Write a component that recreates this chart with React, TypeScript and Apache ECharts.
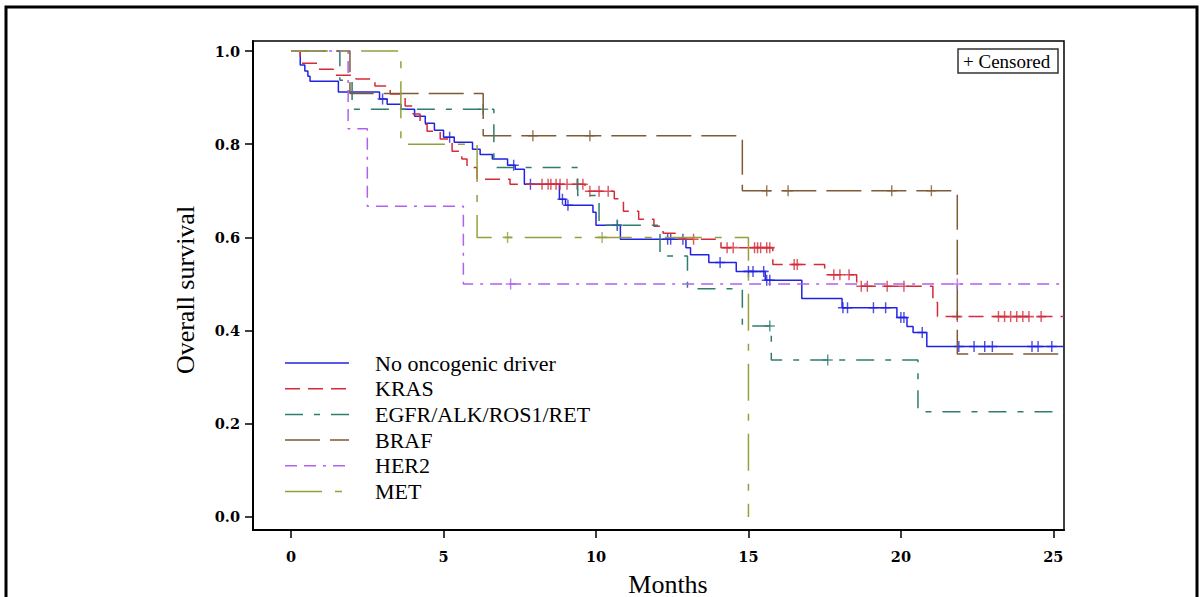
import React, { useEffect, useRef } from "react";
import * as echarts from "echarts";

// ---------------- data ----------------
const xTicks = [0, 5, 10, 15, 20, 25];
const yTicks = [0, 0.2, 0.4, 0.6, 0.8, 1.0];

const groupNames = ["No oncogenic driver", "KRAS", "EGFR/ALK/ROS1/RET", "BRAF", "HER2", "MET"];

// No oncogenic driver
const noDriverTimes = [0, 0.3, 0.45, 0.55, 0.62, 1.55, 2.9, 3.15, 3.6, 4.05, 4.4, 4.7, 5.0, 5.35, 5.95, 6.2, 6.6, 7.1, 7.35, 7.65, 8.8, 9.0, 9.9, 10.0, 10.8, 12.95, 13.1, 13.7, 14.6, 15.55, 16.75, 18.07, 19.87, 20.2, 20.4, 20.85, 25.35];
const noDriverSurv = [1, 0.97, 0.957, 0.946, 0.935, 0.912, 0.897, 0.886, 0.875, 0.86, 0.845, 0.83, 0.815, 0.804, 0.789, 0.778, 0.768, 0.755, 0.746, 0.714, 0.682, 0.669, 0.654, 0.626, 0.596, 0.578, 0.563, 0.546, 0.527, 0.508, 0.469, 0.449, 0.428, 0.409, 0.396, 0.366, 0.366];
const noDriverCensor = [3.0, 5.2, 7.3, 7.85, 8.9, 9.08, 10.7, 12.35, 12.45, 12.85, 14.07, 15.0, 15.15, 15.5, 15.6, 15.7, 18.1, 18.25, 19.1, 19.5, 20.0, 20.1, 20.7, 21.9, 22.4, 22.75, 23.0, 24.3, 24.5, 24.95];

// KRAS
const krasTimes = [0, 0.3, 0.89, 1.38, 2.13, 2.75, 3.25, 3.74, 4.0, 4.23, 4.46, 4.89, 5.28, 5.6, 5.77, 6.1, 7.18, 9.64, 10.6, 10.9, 11.4, 11.9, 12.2, 12.6, 14.1, 15.8, 17.5, 18.55, 21.05, 21.2, 25.35];
const krasSurv = [1, 0.974, 0.961, 0.948, 0.94, 0.925, 0.908, 0.882, 0.865, 0.843, 0.828, 0.811, 0.785, 0.768, 0.75, 0.725, 0.714, 0.699, 0.683, 0.656, 0.639, 0.624, 0.609, 0.596, 0.578, 0.542, 0.52, 0.495, 0.46, 0.43, 0.43];
const krasCensor = [8.23, 8.43, 8.52, 8.69, 8.82, 9.05, 9.38, 9.57, 9.8, 10.1, 10.4, 13.2, 14.3, 14.5, 15.2, 15.3, 15.4, 15.6, 15.7, 16.5, 16.6, 17.8, 18.0, 18.3, 18.7, 18.9, 19.55, 20.1, 21.85, 23.2, 23.4, 23.6, 23.8, 24.0, 24.2, 24.6];

// EGFR/ALK/ROS1/RET
const egfrTimes = [0, 1.6, 2.0, 6.65, 9.4, 10.1, 12.1, 13.0, 14.8, 15.75, 20.56, 25.35];
const egfrSurv = [1, 0.9375, 0.875, 0.75, 0.69, 0.626, 0.56, 0.49, 0.41, 0.337, 0.226, 0.226];
const egfrCensor = [6.3, 10.7, 15.7, 17.6];

// BRAF
const brafTimes = [0, 1.93, 6.3, 14.8, 21.85, 25.35];
const brafSurv = [1, 0.909, 0.818, 0.7, 0.35, 0.35];
const brafCensor = [7.93, 9.8, 15.6, 16.3, 19.7, 21.0];

// HER2
const her2Times = [0, 1.87, 2.5, 5.65, 25.35];
const her2Surv = [1, 0.833, 0.667, 0.5, 0.5];
const her2Censor = [7.2, 21.85];

// MET
const metTimes = [0, 3.6, 6.1, 15.0];
const metSurv = [1, 0.8, 0.6, 0];
const metCensor = [7.1, 10.2];

// ---------------- styles ----------------
const colors = ["#2222e0", "#d42a3a", "#2e7d6e", "#7f5a36", "#b060ee", "#95a03c"];
const dashes: (number[] | "solid")[] = [
  "solid",
  [15, 8],
  [18, 11, 6, 11],
  [35, 10],
  [12, 7, 12, 7, 3, 7],
  [37, 13, 7, 13],
];

const SERIF = "'Liberation Serif', 'Times New Roman', serif";
const TICK_FONT = "'DejaVu Serif', serif";

function survAt(times: number[], surv: number[], t: number) {
  let v = surv[0];
  for (let i = 0; i < times.length; i++) {
    if (times[i] <= t) v = surv[i];
  }
  return v;
}

export default function App() {
  const ref = useRef<HTMLDivElement>(null);

  useEffect(() => {
    document.body.style.margin = "0";
    if (!ref.current) return;
    const chart = echarts.init(ref.current, undefined, { renderer: "svg" });

    const groups = [
      { t: noDriverTimes, s: noDriverSurv, c: noDriverCensor },
      { t: krasTimes, s: krasSurv, c: krasCensor },
      { t: egfrTimes, s: egfrSurv, c: egfrCensor },
      { t: brafTimes, s: brafSurv, c: brafCensor },
      { t: her2Times, s: her2Surv, c: her2Censor },
      { t: metTimes, s: metSurv, c: metCensor },
    ];

    const series: any[] = [];
    groups.forEach((g, i) => {
      series.push({
        type: "line",
        name: groupNames[i],
        step: "end",
        symbol: "none",
        showSymbol: false,
        silent: true,
        z: 2 + i,
        data: g.t.map((t, k) => [t, g.s[k]]),
        lineStyle: { color: colors[i], width: 1.5, type: dashes[i] },
      });
      series.push({
        type: "scatter",
        name: groupNames[i] + " censored",
        silent: true,
        z: 2 + i,
        symbol: "path://M5 0V10M0 5H10",
        symbolSize: [10, 11],
        data: g.c.map((t) => [t, survAt(g.t, g.s, t)]),
        itemStyle: { color: "none", borderColor: colors[i], borderWidth: 1.5 },
      });
    });

    const legendX0 = 285;
    const legendX1 = 349;
    const legendTextX = 375;
    const legendY0 = 363;
    const legendStep = 25.7;
    const legendGraphics: any[] = [];
    groupNames.forEach((n, i) => {
      const y = legendY0 + i * legendStep;
      legendGraphics.push({
        type: "line",
        shape: { x1: legendX0, y1: y, x2: legendX1, y2: y },
        style: {
          stroke: colors[i],
          lineWidth: 1.5,
          lineDash: dashes[i] === "solid" ? null : dashes[i],
        },
      });
      legendGraphics.push({
        type: "text",
        x: legendTextX,
        y: y,
        style: {
          text: n,
          font: `22px ${SERIF}`,
          fill: "#000",
          textVerticalAlign: "middle",
          textAlign: "left",
        },
      });
    });

    const option: any = {
      animation: false,
      backgroundColor: "#fff",
      grid: {
        left: 253,
        top: 41,
        width: 811,
        height: 489,
        show: true,
        borderColor: "#000",
        borderWidth: 1.5,
        backgroundColor: "transparent",
      },
      xAxis: {
        type: "value",
        min: -1.25,
        max: 25.35,
        axisLine: { show: true, onZero: false, lineStyle: { color: "#000", width: 2 } },
        axisTick: { show: true, length: 8, customValues: xTicks, lineStyle: { color: "#000", width: 1.5 } },
        axisLabel: {
          customValues: xTicks,
          margin: 19,
          color: "#000",
          fontFamily: TICK_FONT,
          fontWeight: "bold",
          fontSize: 14.5,
        },
        splitLine: { show: false },
      },
      yAxis: {
        type: "value",
        min: -0.028,
        max: 1.0215,
        axisLine: { show: true, onZero: false, lineStyle: { color: "#000", width: 2 } },
        axisTick: { show: true, length: 8, customValues: yTicks, lineStyle: { color: "#000", width: 1.5 } },
        axisLabel: {
          customValues: yTicks,
          margin: 13,
          color: "#000",
          fontFamily: TICK_FONT,
          fontWeight: "bold",
          fontSize: 14.5,
          formatter: (v: number) => v.toFixed(1),
        },
        splitLine: { show: false },
      },
      graphic: [
        {
          type: "rect",
          shape: { x: 6, y: 7, width: 1191, height: 640 },
          style: { fill: "none", stroke: "#000", lineWidth: 3 },
          silent: true,
        },
        {
          type: "text",
          x: 185,
          y: 290,
          rotation: Math.PI / 2,
          style: {
            text: "Overall survival",
            font: `26px ${SERIF}`,
            fill: "#000",
            textAlign: "center",
            textVerticalAlign: "middle",
          },
        },
        {
          type: "text",
          x: 668,
          y: 597,
          style: {
            text: "Months",
            font: `26px ${SERIF}`,
            fill: "#000",
            textAlign: "center",
            textVerticalAlign: "bottom",
          },
        },
        {
          type: "rect",
          shape: { x: 958, y: 49, width: 100, height: 24 },
          style: { fill: "#fff", stroke: "#333", lineWidth: 1.5 },
          z: 100,
        },
        {
          type: "text",
          x: 963,
          y: 61.5,
          z: 101,
          style: {
            text: "+ Censored",
            font: `19px ${SERIF}`,
            fill: "#000",
            textAlign: "left",
            textVerticalAlign: "middle",
          },
        },
        ...legendGraphics,
      ],
      series,
    };

    chart.setOption(option);
    return () => {
      chart.dispose();
    };
  }, []);

  return <div ref={ref} style={{ width: 1204, height: 597 }} />;
}
